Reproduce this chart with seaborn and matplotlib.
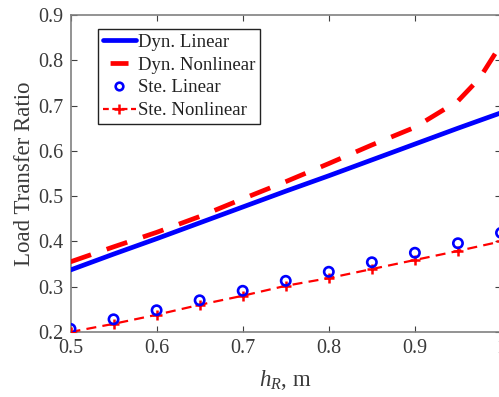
import matplotlib
matplotlib.use("Agg")
import matplotlib.pyplot as plt
import seaborn as sns
import pandas as pd
from matplotlib.lines import Line2D

# ---- data ----
h_dyn = [0.5, 0.55, 0.6, 0.65, 0.7, 0.75, 0.8, 0.85, 0.9, 0.95, 0.975, 1.0]
dyn_linear = [0.337, 0.372, 0.406, 0.441, 0.476, 0.511, 0.545, 0.580, 0.615, 0.650, 0.667, 0.684]
dyn_nonlinear = [0.355, 0.388, 0.420, 0.455, 0.494, 0.532, 0.572, 0.613, 0.652, 0.710, 0.760, 0.835]

h_ste = [0.5, 0.55, 0.6, 0.65, 0.7, 0.75, 0.8, 0.85, 0.9, 0.95, 1.0]
ste_linear = [0.207, 0.228, 0.248, 0.270, 0.291, 0.313, 0.333, 0.354, 0.375, 0.396, 0.419]
ste_nonlinear = [0.200, 0.218, 0.238, 0.260, 0.280, 0.302, 0.319, 0.339, 0.359, 0.379, 0.400]

labels = ["Dyn. Linear", "Dyn. Nonlinear", "Ste. Linear", "Ste. Nonlinear"]
xticks = [0.5, 0.6, 0.7, 0.8, 0.9, 1.0]
yticks = [0.2, 0.3, 0.4, 0.5, 0.6, 0.7, 0.8, 0.9]

sns.set_style("white")
plt.rcParams["font.family"] = ["Liberation Serif", "DejaVu Serif"]
plt.rcParams["mathtext.fontset"] = "custom"
plt.rcParams["mathtext.rm"] = "Liberation Serif"
plt.rcParams["mathtext.it"] = "Liberation Serif:italic"

W, H = 499, 397
fig = plt.figure(figsize=(W / 100, H / 100), dpi=100)
left, right, top, bottom = 70.5, 501, 15, 332
ax = fig.add_axes([left / W, 1 - bottom / H, (right - left) / W, (bottom - top) / H])

df_dyn = pd.DataFrame({"h": h_dyn, "lin": dyn_linear, "nl": dyn_nonlinear})
df_ste = pd.DataFrame({"h": h_ste, "lin": ste_linear, "nl": ste_nonlinear})

blue = "#0000ff"
red = "#ff0000"
LW = 3.4

sns.lineplot(data=df_dyn, x="h", y="lin", ax=ax, color=blue, linewidth=LW, zorder=3)
sns.lineplot(data=df_dyn, x="h", y="nl", ax=ax, color=red, linewidth=LW,
             linestyle=(0, (4.6, 3.5)), zorder=3)
sns.lineplot(data=df_ste, x="h", y="nl", ax=ax, color=red, linewidth=1.6,
             linestyle=(0, (4.5, 2.8)), marker="+", markersize=7,
             markeredgewidth=1.8, markeredgecolor=red, zorder=4)
sns.scatterplot(data=df_ste, x="h", y="lin", ax=ax, marker="o", s=45,
                facecolor="none", edgecolor=blue, linewidth=1.9, zorder=5)

ax.set_xlim(0.5, 1.0)
ax.set_ylim(0.2, 0.9)
ax.set_xticks(xticks)
ax.set_yticks(yticks)
ax.set_xticklabels([f"{v:g}" for v in xticks])
ax.set_yticklabels([f"{v:g}" for v in yticks])

spine_color = "#808080"
for s in ax.spines.values():
    s.set_visible(True)
    s.set_color(spine_color)
    s.set_linewidth(1.2)
ax.tick_params(direction="in", length=4, width=0.8, color="#404040",
               labelsize=14.5, labelcolor="#3a3a3a", top=True, right=True,
               bottom=True, left=True, pad=5)

ax.set_xlabel("$h_R$, m", fontsize=16.5, color="#3a3a3a", labelpad=7)
ax.set_ylabel("Load Transfer Ratio", fontsize=16.5, color="#3a3a3a")
ax.yaxis.set_label_coords((35 - left) / (right - left), 0.5)

handles = [
    Line2D([], [], color=blue, linewidth=LW),
    Line2D([], [], color=red, linewidth=LW, linestyle=(5.3, (3.8, 3.0))),
    Line2D([], [], color=blue, linestyle="none", marker="o", markersize=5.5,
           markerfacecolor="none", markeredgewidth=1.9),
    Line2D([], [], color=red, linewidth=1.6, linestyle=(0, (2.6, 1.6)),
           marker="+", markersize=7, markeredgewidth=1.8),
]
leg = ax.legend(handles, labels, loc="upper left",
                bbox_to_anchor=(98 / W, 1 - 29 / H), bbox_transform=fig.transFigure,
                fontsize=13.5, frameon=True, fancybox=False, framealpha=1,
                edgecolor="#222222", borderaxespad=0, borderpad=0.25,
                handlelength=1.75, handletextpad=0.15, labelspacing=0.3)
leg.get_frame().set_linewidth(1.0)
for t in leg.get_texts():
    t.set_color("#222222")

fig.savefig("out.png", dpi=100)
